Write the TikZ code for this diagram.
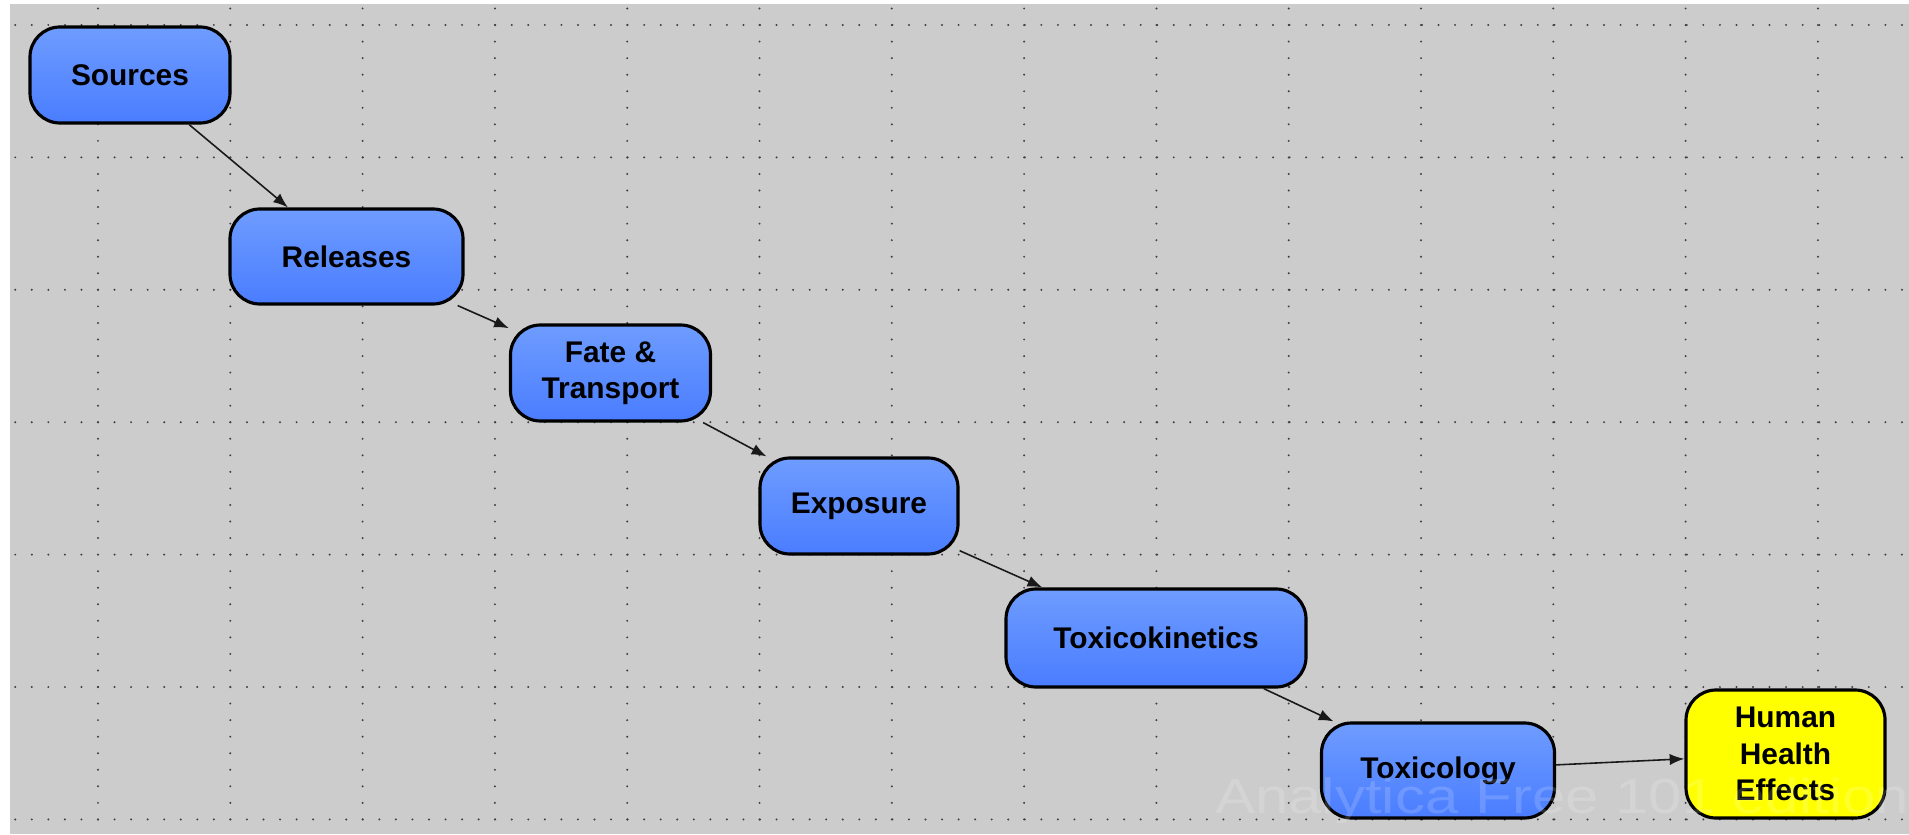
\documentclass[tikz,border=0pt]{standalone}
\usepackage{fontspec}
\setmainfont{Liberation Sans}
\usetikzlibrary{arrows.meta}

\definecolor{canvas}{RGB}{204,204,204}
\definecolor{modeltop}{RGB}{110,156,255}
\definecolor{modelbot}{RGB}{74,125,255}

\begin{document}
\begin{tikzpicture}[
    model/.style={draw=black, line width=0.9pt, rounded corners=0.3cm,
        top color=modeltop, bottom color=modelbot, inner sep=0pt, align=center,
        font=\fontsize{8.5}{10.3}\selectfont\bfseries},
    objective/.style={model, top color=yellow, bottom color=yellow},
    link/.style={-{Latex[length=4.2pt,width=3.2pt]}, line width=0.45pt, draw=black!90},
    griddot/.style={fill=black!75}
]
    % Canvas
    \useasboundingbox (0,0) rectangle (19.09,8.34);
    \fill[canvas] (0.10,0) rectangle (19.09,8.30);

    % Dotted grid, rows then columns
    \foreach \r in {0,...,6}
        \foreach \c in {-5,...,109}
            \fill[griddot] ({0.98+0.1655*\c},{8.09-1.324*\r}) circle (0.011);
    \foreach \k in {0,...,13}
        \foreach \i in {0,...,49}
            \fill[griddot] ({0.98+1.323*\k},{8.255-0.1655*\i}) circle (0.011);

    % Chain of models
    \node[model, minimum width=2.00cm, minimum height=0.96cm] (src) at (1.30,7.59) {Sources};
    \node[model, minimum width=2.33cm, minimum height=0.95cm] (rel) at (3.465,5.775) {Releases};
    \node[model, minimum width=2.00cm, minimum height=0.96cm] (fate) at (6.105,4.61) {Fate \&\\Transport};
    \node[model, minimum width=1.98cm, minimum height=0.96cm] (expo) at (8.59,3.28) {Exposure};
    \node[model, minimum width=3.00cm, minimum height=0.98cm] (kin) at (11.56,1.96) {Toxicokinetics};
    \node[model, minimum width=2.33cm, minimum height=0.95cm] (tox) at (14.38,0.635) {Toxicology};

    % Objective
    \node[objective, minimum width=1.99cm, minimum height=1.28cm] (hhe) at (17.855,0.80) {Human\\Health\\Effects};

    % Connections
    \draw[link] (src) -- (rel);
    \draw[link] (rel) -- (fate);
    \draw[link] (fate) -- (expo);
    \draw[link] (expo) -- (kin);
    \draw[link] (kin) -- (tox);
    \draw[link] (tox) -- (hhe);

    % Watermark
    \node[anchor=base west, text=white, text opacity=0.16, xscale=1.22, transform shape,
        font=\fontsize{14}{14}\selectfont] (mark) at (12.0,0.21) {Analytica Free 101 edition};
\end{tikzpicture}
\end{document}
